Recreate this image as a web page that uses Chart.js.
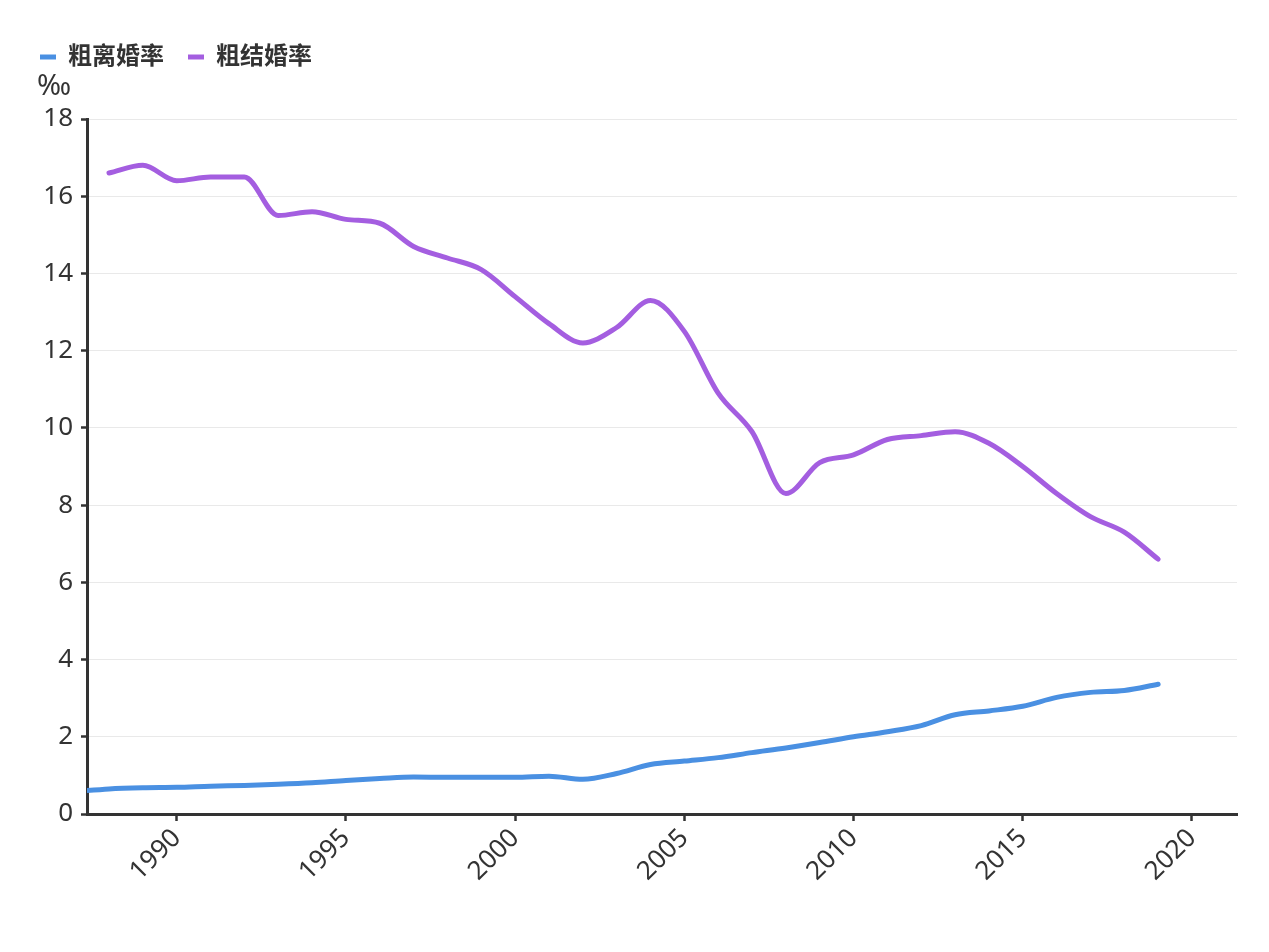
<!DOCTYPE html>
<html>
<head>
<meta charset="utf-8">
<script src="https://cdn.jsdelivr.net/npm/chart.js@4"></script>
<style>
  html, body { margin: 0; padding: 0; background: #fff; }
  #wrap { width: 1269px; height: 952px; }
</style>
</head>
<body>
<div id="wrap"><canvas id="chart"></canvas></div>
<script>
// 年份与数据（‰）
const divorceYears = [1987, 1988, 1989, 1990, 1991, 1992, 1993, 1994, 1995, 1996, 1997, 1998, 1999, 2000, 2001, 2002, 2003, 2004, 2005, 2006, 2007, 2008, 2009, 2010, 2011, 2012, 2013, 2014, 2015, 2016, 2017, 2018, 2019];
const divorceRate = [0.58, 0.65, 0.68, 0.69, 0.72, 0.74, 0.77, 0.81, 0.87, 0.92, 0.96, 0.95, 0.95, 0.95, 0.98, 0.90, 1.05, 1.28, 1.37, 1.46, 1.59, 1.71, 1.85, 2.00, 2.13, 2.29, 2.57, 2.67, 2.79, 3.02, 3.15, 3.20, 3.36];

const marriageYears = [1988, 1989, 1990, 1991, 1992, 1993, 1994, 1995, 1996, 1997, 1998, 1999, 2000, 2001, 2002, 2003, 2004, 2005, 2006, 2007, 2008, 2009, 2010, 2011, 2012, 2013, 2014, 2015, 2016, 2017, 2018, 2019];
const marriageRate = [16.6, 16.8, 16.4, 16.5, 16.5, 15.5, 15.6, 15.4, 15.3, 14.7, 14.4, 14.1, 13.4, 12.7, 12.2, 12.6, 13.3, 12.5, 10.9, 9.9, 8.3, 9.1, 9.3, 9.7, 9.8, 9.9, 9.6, 9.0, 8.3, 7.7, 7.3, 6.6];

const xTicks = [1990, 1995, 2000, 2005, 2010, 2015, 2020];
const seriesNames = ['粗离婚率', '粗结婚率'];
const unitLabel = '‰';

const toPoints = (xs, ys) => xs.map((x, i) => ({ x, y: ys[i] }));

const FONT = "'Noto Sans', 'Noto Sans CJK SC', sans-serif";
const BLUE = '#4a90e2';
const PURPLE = '#a45ee0';

// ‰ 单位标签
const unitPlugin = {
  id: 'unitLabel',
  afterDraw(chart) {
    const { ctx, chartArea } = chart;
    ctx.save();
    ctx.font = `29px ${FONT}`;
    ctx.fillStyle = '#333';
    ctx.textAlign = 'left';
    ctx.textBaseline = 'middle';
    ctx.fillText(unitLabel, chartArea.left - 50, chartArea.top - 32);
    ctx.restore();
  }
};

// 图例下方留出空间
const legendSpacer = {
  id: 'legendSpacer',
  beforeInit(chart) {
    const fit = chart.legend.fit;
    chart.legend.fit = function () {
      fit.call(this);
      this.height += 40;
    };
  }
};

new Chart(document.getElementById('chart').getContext('2d'), {
  type: 'line',
  data: {
    datasets: [{
      label: seriesNames[0],
      data: toPoints(divorceYears, divorceRate),
      borderColor: BLUE,
      backgroundColor: BLUE,
      borderWidth: 5,
      pointRadius: 0,
      cubicInterpolationMode: 'monotone',
      borderCapStyle: 'round'
    }, {
      label: seriesNames[1],
      data: toPoints(marriageYears, marriageRate),
      borderColor: PURPLE,
      backgroundColor: PURPLE,
      borderWidth: 5,
      pointRadius: 0,
      cubicInterpolationMode: 'monotone',
      borderCapStyle: 'round'
    }]
  },
  options: {
    responsive: true,
    maintainAspectRatio: false,
    animation: false,
    layout: {
      padding: { left: 16, right: 32, top: 21, bottom: 0 }
    },
    plugins: {
      legend: {
        position: 'top',
        align: 'start',
        labels: {
          boxWidth: 16,
          boxHeight: 5,
          padding: 24,
          color: '#333',
          font: { family: FONT, size: 24, weight: 'bold' },
          generateLabels(chart) {
            return chart.data.datasets.map((ds, i) => ({
              text: ds.label,
              fillStyle: ds.borderColor,
              strokeStyle: ds.borderColor,
              fontColor: '#333',
              lineWidth: 0,
              hidden: !chart.isDatasetVisible(i),
              datasetIndex: i
            }));
          }
        }
      },
      tooltip: { enabled: false }
    },
    scales: {
      x: {
        type: 'linear',
        min: 1987.35,
        max: 2021.33,
        ticks: {
          callback: v => String(v),
          color: '#333',
          font: { family: FONT, size: 26 },
          maxRotation: 45,
          minRotation: 45,
          padding: 2
        },
        afterBuildTicks(scale) {
          scale.ticks = xTicks.map(v => ({ value: v }));
        },
        grid: {
          color: 'transparent',
          tickColor: '#333',
          tickLength: 7,
          tickWidth: 2.5
        },
        border: { color: '#333', width: 3 },
        afterFit(scale) { scale.height = 138; }
      },
      y: {
        min: 0,
        max: 18,
        ticks: {
          stepSize: 2,
          color: '#333',
          font: { family: FONT, size: 26 },
          padding: 8
        },
        grid: {
          color: '#e9e9e9',
          lineWidth: 1,
          tickColor: '#333',
          tickLength: 6,
          tickWidth: 2.5
        },
        border: { color: '#333', width: 3 },
        afterFit(scale) { scale.width = 71; }
      }
    }
  },
  plugins: [unitPlugin, legendSpacer]
});
</script>
</body>
</html>
